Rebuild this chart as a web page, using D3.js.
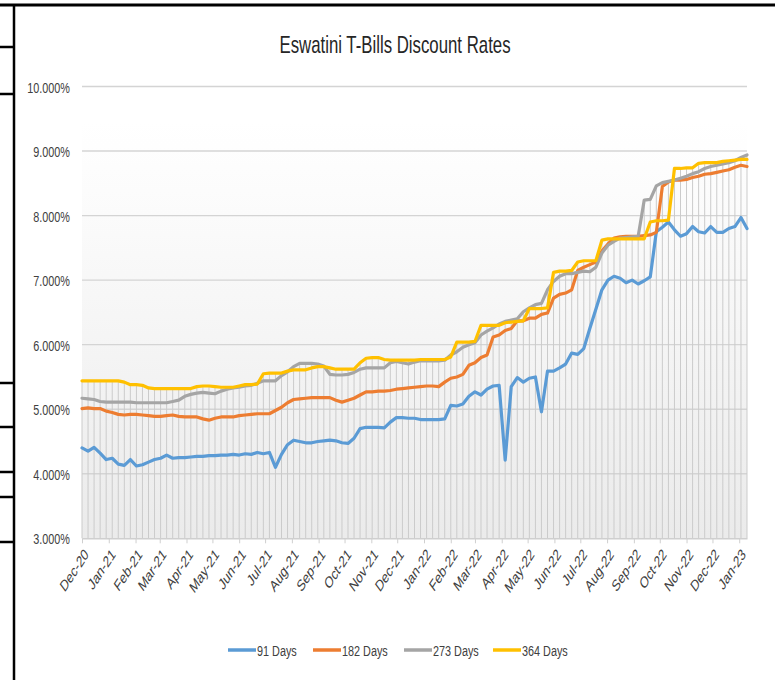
<!DOCTYPE html>
<html>
<head>
<meta charset="utf-8">
<script src="https://cdn.jsdelivr.net/npm/d3@7"></script>
<style>
html,body{margin:0;padding:0;background:#fff;}
svg{display:block;}
text{font-family:"Liberation Sans",Arial,"DejaVu Sans",sans-serif;}
</style>
</head>
<body>
<svg id="chart" width="775" height="680"></svg>
<script>
// ---- data ----
const TITLE = "Eswatini T-Bills Discount Rates";
const START_DATE = new Date(2020, 11, 1);   // first weekly auction in the view
const N_WEEKS = 111;
const seriesNames = ["91 Days", "182 Days", "273 Days", "364 Days"];
const seriesColors = ["#5B9BD5", "#ED7D31", "#A5A5A5", "#FFC000"];
const yTicks = [3, 4, 5, 6, 7, 8, 9, 10];

const days91 = [
 4.40,4.35,4.41,4.32,4.22,4.24,4.15,4.13,4.22,4.12,
 4.14,4.18,4.22,4.24,4.29,4.24,4.25,4.25,4.26,4.27,
 4.27,4.28,4.28,4.29,4.29,4.30,4.29,4.31,4.30,4.33,
 4.31,4.33,4.10,4.30,4.45,4.52,4.50,4.48,4.48,4.50,
 4.51,4.52,4.51,4.48,4.47,4.55,4.70,4.72,4.72,4.72,
 4.71,4.80,4.87,4.87,4.86,4.86,4.84,4.84,4.84,4.84,
 4.85,5.06,5.05,5.08,5.20,5.27,5.22,5.31,5.36,5.37,
 4.21,5.35,5.49,5.42,5.48,5.50,4.96,5.59,5.59,5.64,
 5.70,5.87,5.85,5.94,6.25,6.55,6.85,7.00,7.06,7.03,
 6.96,7.00,6.94,6.99,7.05,7.75,7.82,7.90,7.78,7.68,
 7.72,7.83,7.75,7.73,7.83,7.74,7.74,7.80,7.83,7.97,7.80];
const days182 = [
 5.01,5.02,5.01,5.01,4.97,4.95,4.92,4.91,4.92,4.92,
 4.91,4.90,4.89,4.89,4.90,4.91,4.89,4.88,4.88,4.88,
 4.85,4.83,4.86,4.88,4.88,4.88,4.90,4.91,4.92,4.93,
 4.93,4.93,4.98,5.03,5.10,5.15,5.16,5.17,5.18,5.18,
 5.18,5.18,5.14,5.11,5.14,5.17,5.22,5.27,5.27,5.28,
 5.28,5.29,5.31,5.32,5.33,5.34,5.35,5.36,5.36,5.35,
 5.42,5.48,5.50,5.54,5.68,5.72,5.80,5.84,6.12,6.15,
 6.22,6.25,6.37,6.37,6.41,6.41,6.47,6.49,6.72,6.78,
 6.80,6.85,7.15,7.20,7.24,7.28,7.45,7.56,7.65,7.67,
 7.68,7.68,7.68,7.69,7.70,7.74,8.45,8.52,8.55,8.55,
 8.56,8.59,8.61,8.64,8.65,8.67,8.69,8.71,8.75,8.78,8.76];
const days273 = [
 5.17,5.16,5.15,5.12,5.11,5.11,5.11,5.11,5.11,5.10,
 5.10,5.10,5.10,5.10,5.10,5.12,5.14,5.20,5.23,5.25,
 5.26,5.25,5.24,5.28,5.31,5.33,5.34,5.36,5.37,5.40,
 5.44,5.44,5.44,5.52,5.58,5.66,5.71,5.71,5.71,5.70,
 5.67,5.54,5.53,5.53,5.54,5.57,5.62,5.64,5.64,5.64,
 5.64,5.72,5.74,5.72,5.70,5.73,5.75,5.75,5.75,5.75,
 5.76,5.84,5.89,5.96,6.00,6.03,6.15,6.21,6.26,6.32,
 6.36,6.38,6.40,6.51,6.57,6.62,6.64,6.85,6.98,7.06,
 7.10,7.10,7.12,7.14,7.13,7.20,7.42,7.54,7.60,7.65,
 7.66,7.67,7.68,8.24,8.25,8.46,8.51,8.53,8.55,8.58,
 8.61,8.65,8.68,8.73,8.76,8.78,8.80,8.82,8.85,8.90,8.94];
const days364 = [
 5.44,5.44,5.44,5.44,5.44,5.44,5.44,5.42,5.38,5.38,
 5.37,5.33,5.32,5.32,5.32,5.32,5.32,5.32,5.32,5.35,
 5.36,5.36,5.35,5.34,5.34,5.34,5.36,5.38,5.38,5.39,
 5.55,5.56,5.56,5.56,5.59,5.61,5.61,5.61,5.64,5.66,
 5.66,5.64,5.62,5.62,5.62,5.62,5.72,5.79,5.80,5.80,
 5.77,5.76,5.76,5.76,5.76,5.76,5.77,5.77,5.77,5.77,
 5.77,5.81,6.04,6.04,6.04,6.05,6.30,6.30,6.30,6.30,
 6.34,6.35,6.36,6.37,6.56,6.56,6.56,6.57,7.12,7.14,
 7.14,7.15,7.28,7.30,7.30,7.30,7.62,7.64,7.64,7.64,
 7.64,7.64,7.64,7.64,7.90,7.92,7.92,7.93,8.73,8.73,
 8.74,8.74,8.81,8.82,8.82,8.82,8.84,8.85,8.86,8.87,8.87];

const allSeries = [days91, days182, days273, days364];
const dates = d3.range(N_WEEKS).map(i => d3.timeDay.offset(START_DATE, 7 * i));
const monthTicks = d3.timeMonth.range(new Date(2020, 11, 1), new Date(2023, 0, 2));

// ---- layout ----
const SX = 0.7;              // horizontal text compression
const plot = {left: 82, right: 747, top: 86.5, bottom: 538.3};
const svg = d3.select("#chart");

const x = d3.scaleTime().domain([dates[0], dates[N_WEEKS - 1]]).range([plot.left, plot.right]);
const y = d3.scaleLinear().domain([3, 10]).range([plot.bottom, plot.top]);

// background gradient
const defs = svg.append("defs");
const grad = defs.append("linearGradient").attr("id", "bg").attr("x1", 0).attr("y1", 0).attr("x2", 0).attr("y2", 1);
grad.append("stop").attr("offset", "0%").attr("stop-color", "#ffffff");
grad.append("stop").attr("offset", "22%").attr("stop-color", "#fbfbfb");
grad.append("stop").attr("offset", "100%").attr("stop-color", "#ebebeb");
svg.append("rect").attr("x", plot.left).attr("y", y(9.45)).attr("width", plot.right - plot.left)
  .attr("height", plot.bottom - y(9.45)).attr("fill", "url(#bg)");

// horizontal gridlines
svg.append("g").selectAll("line").data(yTicks.filter(v => v > 3)).join("line")
  .attr("x1", plot.left).attr("x2", plot.right)
  .attr("y1", d => y(d)).attr("y2", d => y(d))
  .attr("stroke", "#d4d4d4").attr("stroke-width", 1.4);

// drop lines
svg.append("g").selectAll("line").data(dates).join("line")
  .attr("x1", d => x(d)).attr("x2", d => x(d))
  .attr("y1", (d, i) => y(d3.max(allSeries, s => s[i])))
  .attr("y2", y(3))
  .attr("stroke", "#cbcbcb").attr("stroke-width", 1);

// x axis
const xAxis = svg.append("g").attr("transform", `translate(0,${y(3)})`)
  .call(d3.axisBottom(x).tickValues(monthTicks).tickFormat(d3.timeFormat("%b-%y")).tickSize(5).tickSizeOuter(0));
xAxis.select(".domain").attr("stroke", "#cfcfcf").attr("stroke-width", 1.4);
xAxis.selectAll(".tick line").attr("stroke", "#cfcfcf");
xAxis.selectAll(".tick text")
  .attr("x", null).attr("y", null).attr("dy", "0.35em")
  .attr("text-anchor", "end")
  .attr("transform", `translate(4,13) scale(${SX},1) rotate(-47)`)
  .style("font-size", "16px").attr("fill", "#404040")
  .style("font-family", '"Liberation Sans",Arial,sans-serif');

// y axis
const yAxis = svg.append("g").attr("transform", `translate(${plot.left},0)`)
  .call(d3.axisLeft(y).tickValues(yTicks).tickFormat(v => d3.format(".3f")(v) + "%").tickSize(0));
yAxis.select(".domain").remove();
yAxis.selectAll(".tick text")
  .attr("x", null).attr("dy", "0.36em")
  .attr("text-anchor", "end")
  .attr("transform", `translate(-12,0) scale(${SX},1)`)
  .style("font-size", "15.5px").attr("fill", "#404040")
  .style("font-family", '"Liberation Sans",Arial,sans-serif');

// series lines
const line = d3.line().x((d, i) => x(dates[i])).y(d => y(d));
svg.append("g").selectAll("path").data(allSeries).join("path")
  .attr("d", d => line(d))
  .attr("fill", "none")
  .attr("stroke", (d, i) => seriesColors[i])
  .attr("stroke-width", 3.2)
  .attr("stroke-linejoin", "round")
  .attr("stroke-linecap", "round");

// title
svg.append("text").attr("transform", `translate(395,53) scale(${SX},1)`)
  .attr("text-anchor", "middle").style("font-size", "24px").attr("fill", "#262626")
  .text(TITLE);

// legend
const legendX = [228, 313, 404, 493];
const lg = svg.append("g").selectAll("g").data(seriesNames).join("g")
  .attr("transform", (d, i) => `translate(${legendX[i]},650)`);
lg.append("line").attr("x1", 0).attr("x2", 28).attr("y1", 0).attr("y2", 0)
  .attr("stroke", (d, i) => seriesColors[i]).attr("stroke-width", 3.5);
lg.append("text").attr("transform", `translate(29,0) scale(${SX},1)`)
  .attr("dy", "0.36em").style("font-size", "15.5px").attr("fill", "#404040")
  .text(d => d);

// surrounding frame (page table borders)
const frame = svg.append("g").attr("stroke", "#000");
frame.append("line").attr("x1", 0).attr("x2", 775).attr("y1", 5).attr("y2", 5).attr("stroke-width", 3);
frame.append("line").attr("x1", 14).attr("x2", 14).attr("y1", 4).attr("y2", 680).attr("stroke-width", 2.5);
frame.selectAll("line.seg").data([47, 94, 383, 427, 472, 497, 542]).join("line").attr("class", "seg")
  .attr("x1", 0).attr("x2", 14).attr("y1", d => d).attr("y2", d => d).attr("stroke-width", 2.5);
</script>
</body>
</html>
